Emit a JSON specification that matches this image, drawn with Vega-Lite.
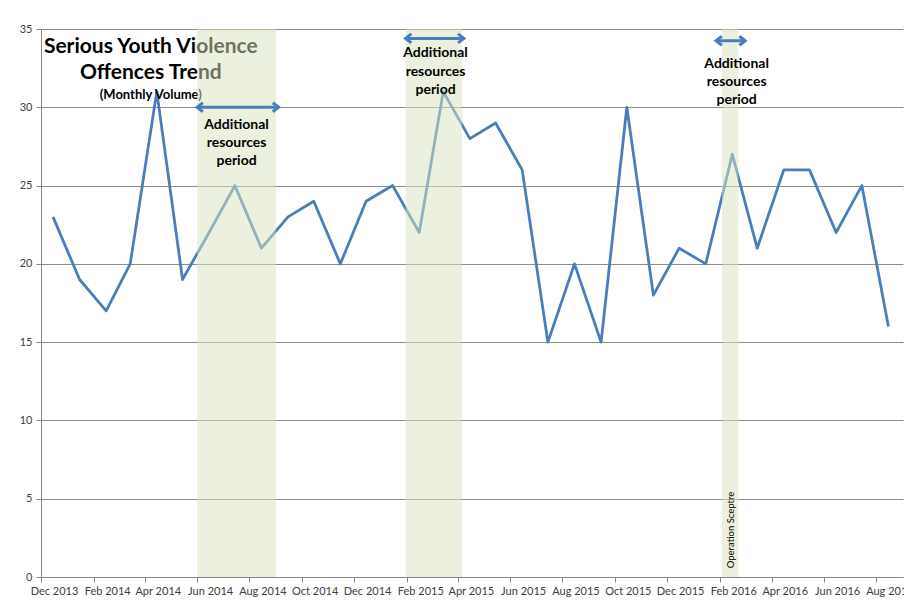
{
  "$schema": "https://vega.github.io/schema/vega-lite/v6.json",
  "width": 862,
  "height": 548,
  "autosize": {"type": "none"},
  "padding": {"left": 41, "top": 29, "right": 1, "bottom": 24},
  "background": "white",
  "config": {
    "view": {"stroke": null},
    "font": "Lato",
    "axis": {
      "labelFont": "Lato",
      "labelFontSize": 11,
      "labelColor": "#404040",
      "domainColor": "#868686",
      "tickColor": "#868686",
      "gridColor": "#8C8C8C",
      "tickSize": 5,
      "domainWidth": 1,
      "gridWidth": 1,
      "tickWidth": 1
    }
  },
  "datasets": {
    "series": [
      {"date": "2013-12-15", "value": 23},
      {"date": "2014-01-15", "value": 19},
      {"date": "2014-02-15", "value": 17},
      {"date": "2014-03-15", "value": 20},
      {"date": "2014-04-15", "value": 31},
      {"date": "2014-05-15", "value": 19},
      {"date": "2014-06-15", "value": 22},
      {"date": "2014-07-15", "value": 25},
      {"date": "2014-08-15", "value": 21},
      {"date": "2014-09-15", "value": 23},
      {"date": "2014-10-15", "value": 24},
      {"date": "2014-11-15", "value": 20},
      {"date": "2014-12-15", "value": 24},
      {"date": "2015-01-15", "value": 25},
      {"date": "2015-02-15", "value": 22},
      {"date": "2015-03-15", "value": 31},
      {"date": "2015-04-15", "value": 28},
      {"date": "2015-05-15", "value": 29},
      {"date": "2015-06-15", "value": 26},
      {"date": "2015-07-15", "value": 15},
      {"date": "2015-08-15", "value": 20},
      {"date": "2015-09-15", "value": 15},
      {"date": "2015-10-15", "value": 30},
      {"date": "2015-11-15", "value": 18},
      {"date": "2015-12-15", "value": 21},
      {"date": "2016-01-15", "value": 20},
      {"date": "2016-02-15", "value": 27},
      {"date": "2016-03-15", "value": 21},
      {"date": "2016-04-15", "value": 26},
      {"date": "2016-05-15", "value": 26},
      {"date": "2016-06-15", "value": 22},
      {"date": "2016-07-15", "value": 25},
      {"date": "2016-08-15", "value": 16}
    ],
    "bands": [
      {"start": "2014-06-01", "end": "2014-09-01"},
      {"start": "2015-01-30", "end": "2015-04-06"},
      {"start": "2016-02-03", "end": "2016-02-22"}
    ],
    "arrows": [
      {"start": "2014-06-01", "end": "2014-09-04", "y": 30},
      {"start": "2015-01-30", "end": "2015-04-08", "y": 34.4},
      {"start": "2016-01-27", "end": "2016-03-01", "y": 34.25}
    ],
    "notes": [
      {"date": "2014-07-17", "y": 28.645, "text": "Additional"},
      {"date": "2014-07-17", "y": 27.495, "text": "resources"},
      {"date": "2014-07-17", "y": 26.345, "text": "period"},
      {"date": "2015-03-06", "y": 33.18, "text": "Additional"},
      {"date": "2015-03-06", "y": 32.03, "text": "resources"},
      {"date": "2015-03-06", "y": 30.88, "text": "period"},
      {"date": "2016-02-20", "y": 32.48, "text": "Additional"},
      {"date": "2016-02-20", "y": 31.34, "text": "resources"},
      {"date": "2016-02-20", "y": 30.2, "text": "period"}
    ],
    "title": [
      {"date": "2014-04-08", "y": 33.47, "text": "Serious Youth Violence"},
      {"date": "2014-04-08", "y": 31.79, "text": "Offences Trend"}
    ],
    "subtitle": [
      {"date": "2014-04-08", "y": 30.53, "text": "(Monthly Volume)"}
    ],
    "operation": [
      {"date": "2016-02-13", "y": 3.0, "text": "Operation Sceptre"}
    ]
  },
  "layer": [
    {
      "data": {"name": "series"},
      "mark": {"type": "line", "color": "#4A7EBB", "strokeWidth": 2.8, "strokeJoin": "round"},
      "encoding": {
        "x": {
          "field": "date",
          "type": "temporal",
          "title": null,
          "scale": {"domain": [{"year": 2013, "month": 12, "date": 1}, {"year": 2016, "month": 9, "date": 1}]},
          "axis": {
            "grid": false,
            "format": "%b %Y",
            "labelOffset": 13,
            "labelFlush": false,
            "labelOverlap": false,
            "labelBound": false,
            "labelPadding": 3,
            "values": [
              {"year": 2013, "month": 12, "date": 1},
              {"year": 2014, "month": 2, "date": 1},
              {"year": 2014, "month": 4, "date": 1},
              {"year": 2014, "month": 6, "date": 1},
              {"year": 2014, "month": 8, "date": 1},
              {"year": 2014, "month": 10, "date": 1},
              {"year": 2014, "month": 12, "date": 1},
              {"year": 2015, "month": 2, "date": 1},
              {"year": 2015, "month": 4, "date": 1},
              {"year": 2015, "month": 6, "date": 1},
              {"year": 2015, "month": 8, "date": 1},
              {"year": 2015, "month": 10, "date": 1},
              {"year": 2015, "month": 12, "date": 1},
              {"year": 2016, "month": 2, "date": 1},
              {"year": 2016, "month": 4, "date": 1},
              {"year": 2016, "month": 6, "date": 1},
              {"year": 2016, "month": 8, "date": 1}
            ]
          }
        },
        "y": {
          "field": "value",
          "type": "quantitative",
          "title": null,
          "scale": {"domain": [0, 35], "nice": false},
          "axis": {"grid": true, "values": [0, 5, 10, 15, 20, 25, 30, 35], "labelPadding": 4}
        }
      }
    },
    {
      "data": {"name": "title"},
      "mark": {"type": "text", "font": "Lato", "fontWeight": "bold", "fontSize": 21, "align": "center", "baseline": "alphabetic", "color": "#000000"},
      "encoding": {
        "x": {"field": "date", "type": "temporal", "title": null},
        "y": {"field": "y", "type": "quantitative", "title": null},
        "text": {"field": "text"}
      }
    },
    {
      "data": {"name": "subtitle"},
      "mark": {"type": "text", "font": "Lato", "fontWeight": "bold", "fontSize": 13, "align": "center", "baseline": "alphabetic", "color": "#000000"},
      "encoding": {
        "x": {"field": "date", "type": "temporal", "title": null},
        "y": {"field": "y", "type": "quantitative", "title": null},
        "text": {"field": "text"}
      }
    },
    {
      "data": {"name": "bands"},
      "mark": {"type": "rect", "color": "#D7E3BD", "opacity": 0.5},
      "encoding": {
        "x": {"field": "start", "type": "temporal", "title": null},
        "x2": {"field": "end"},
        "y": {"datum": 35},
        "y2": {"datum": 0}
      }
    },
    {
      "data": {"name": "arrows"},
      "mark": {"type": "rule", "color": "#4A7EBB", "strokeWidth": 3},
      "encoding": {
        "x": {"field": "start", "type": "temporal", "title": null},
        "x2": {"field": "end"},
        "y": {"field": "y", "type": "quantitative", "title": null}
      }
    },
    {
      "data": {"name": "arrows"},
      "mark": {"type": "point", "shape": "M 1.3 -1 L 0 0 L 1.3 1", "filled": false, "stroke": "#4A7EBB", "strokeWidth": 3, "size": 81, "opacity": 1, "strokeJoin": "miter"},
      "encoding": {
        "x": {"field": "start", "type": "temporal", "title": null},
        "y": {"field": "y", "type": "quantitative", "title": null}
      }
    },
    {
      "data": {"name": "arrows"},
      "mark": {"type": "point", "shape": "M -1.3 -1 L 0 0 L -1.3 1", "filled": false, "stroke": "#4A7EBB", "strokeWidth": 3, "size": 81, "opacity": 1, "strokeJoin": "miter"},
      "encoding": {
        "x": {"field": "end", "type": "temporal", "title": null},
        "y": {"field": "y", "type": "quantitative", "title": null}
      }
    },
    {
      "data": {"name": "notes"},
      "mark": {"type": "text", "font": "Lato", "fontWeight": "bold", "fontSize": 14, "align": "center", "baseline": "alphabetic", "color": "#000000"},
      "encoding": {
        "x": {"field": "date", "type": "temporal", "title": null},
        "y": {"field": "y", "type": "quantitative", "title": null},
        "text": {"field": "text"}
      }
    },
    {
      "data": {"name": "operation"},
      "mark": {"type": "text", "font": "Lato", "fontSize": 9.5, "angle": 270, "align": "center", "baseline": "middle", "color": "#000000"},
      "encoding": {
        "x": {"field": "date", "type": "temporal", "title": null},
        "y": {"field": "y", "type": "quantitative", "title": null},
        "text": {"field": "text"}
      }
    }
  ]
}
